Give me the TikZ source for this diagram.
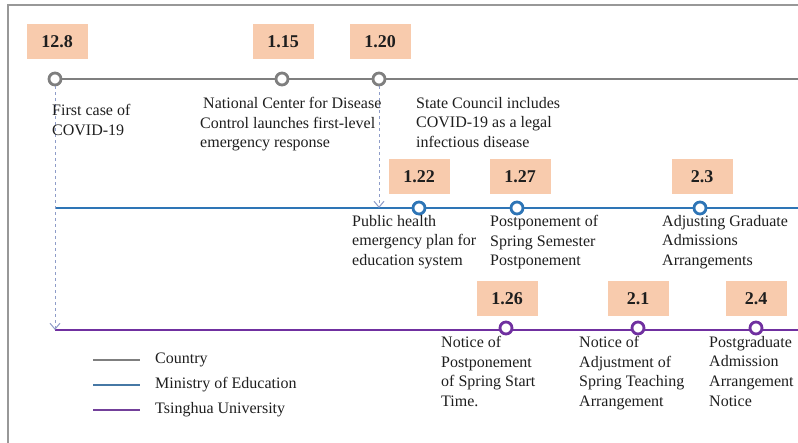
\documentclass[tikz,border=0pt]{standalone}
\usepackage{fontspec}
\setmainfont{Liberation Serif}
\usetikzlibrary{arrows.meta}
\definecolor{cgray}{HTML}{7F7F7F}
\definecolor{cblue}{HTML}{2E75B6}
\definecolor{cpurple}{HTML}{7030A0}
\definecolor{cpeach}{HTML}{F8CBAD}
\definecolor{cdash}{HTML}{8E9CC8}
\definecolor{ctext}{HTML}{1E1E1E}
\tikzset{
  datebox/.style={fill=cpeach, minimum width=61pt, minimum height=35pt, inner sep=0pt,
    font=\fontsize{18}{20}\selectfont\bfseries, text=ctext},
  evtext/.style={anchor=north west, inner sep=0pt, align=left, text=ctext,
    font=\fontsize{16}{19.6}\selectfont},
  dot/.style={circle, draw=#1, line width=2.8pt, fill=white, minimum size=12pt, inner sep=0pt},
  axis/.style={draw=#1, line width=1.4pt},
  link/.style={draw=cdash, line width=1pt, dashed, dash pattern=on 3pt off 3pt,
    -{Straight Barb[length=6pt,width=10pt]}},
  legtext/.style={anchor=west, inner sep=0pt, text=ctext, font=\fontsize{16}{18}\selectfont},
}
\begin{document}
\begin{tikzpicture}[x=1pt,y=-1pt]
\useasboundingbox (0,0) rectangle (798,443);
% frame
\draw[cgray!80, line width=1.2pt] (8,443) -- (8,5) -- (798,5);
% axis end coordinates
\coordinate (cs) at (55,79); \coordinate (ce) at (798,79);
\coordinate (ms) at (55,208); \coordinate (me) at (798,208);
\coordinate (ts) at (55,330); \coordinate (te) at (798,330);
\draw[axis=cgray] (cs) -- (ce);
\draw[axis=cblue] (ms) -- (me);
\draw[axis=cpurple] (ts) -- (te);
% country
\node[dot=cgray] (c1) at (55,79) {};
\node[dot=cgray] (c2) at (282,79) {};
\node[dot=cgray] (c3) at (379,79) {};
% dashed links
\draw[link] (c1) -- (ts);
\draw[link] (c3) -- (379,208);
\node[datebox] (d1) at (57,42) {12.8};
\node[datebox] (d2) at (283,42) {1.15};
\node[datebox] (d3) at (380,42) {1.20};
\node[evtext] (e1) at (52,104) {First case of\\COVID-19};
\node[evtext] (e2) at (200,97) {\hspace*{3pt}National Center for Disease\\Control launches first-level\\emergency response};
\node[evtext] (e3) at (416,97) {State Council includes\\COVID-19 as a legal\\infectious disease};
% ministry
\node[dot=cblue] (m1) at (419,208) {};
\node[dot=cblue] (m2) at (517,208) {};
\node[dot=cblue] (m3) at (700,208) {};
\node[datebox] (f1) at (419,177) {1.22};
\node[datebox] (f2) at (520,177) {1.27};
\node[datebox] (f3) at (702,177) {2.3};
\node[evtext] (g1) at (352,215) {Public health\\emergency plan for\\education system};
\node[evtext] (g2) at (490,215) {Postponement of\\Spring Semester\\Postponement};
\node[evtext] (g3) at (662,215) {Adjusting Graduate\\Admissions\\Arrangements};
% tsinghua
\node[dot=cpurple] (t1) at (506,328) {};
\node[dot=cpurple] (t2) at (638,328) {};
\node[dot=cpurple] (t3) at (756,328) {};
\node[datebox] (h1) at (507,299) {1.26};
\node[datebox] (h2) at (638,299) {2.1};
\node[datebox] (h3) at (756,299) {2.4};
\node[evtext] (k1) at (441,336) {Notice of\\Postponement\\of Spring Start\\Time.};
\node[evtext] (k2) at (579,336) {Notice of\\Adjustment of\\Spring Teaching\\Arrangement};
\node[evtext] (k3) at (709,336) {Postgraduate\\Admission\\Arrangement\\Notice};
% legend
\coordinate (l1a) at (93,360); \coordinate (l1b) at (140,360);
\coordinate (l2a) at (93,385); \coordinate (l2b) at (140,385);
\coordinate (l3a) at (93,410); \coordinate (l3b) at (140,410);
\draw[cgray, line width=1.2pt] (l1a) -- (l1b);
\draw[cblue!70!cgray, line width=1.2pt] (l2a) -- (l2b);
\draw[cpurple!80!cgray, line width=1.4pt] (l3a) -- (l3b);
\node[legtext] (n1) at (155,360) {Country};
\node[legtext] (n2) at (155,385) {Ministry of Education};
\node[legtext] (n3) at (155,410) {Tsinghua University};
\end{tikzpicture}
\end{document}
